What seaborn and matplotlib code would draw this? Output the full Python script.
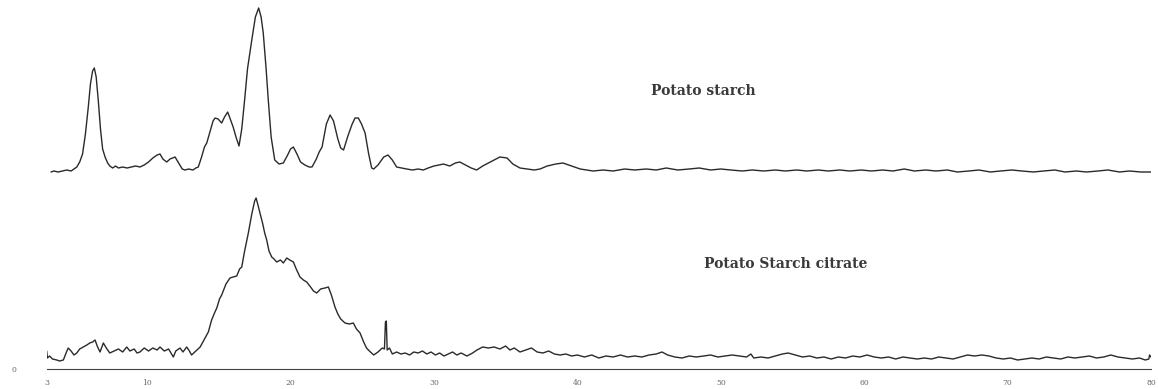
import numpy as np
import pandas as pd
import matplotlib
matplotlib.use("Agg")
import matplotlib.pyplot as plt
import seaborn as sns
from matplotlib.ticker import FixedLocator, MultipleLocator

# ---------------- data ----------------
two_theta_native = [
    3.3, 3.5, 3.8, 4.1, 4.4, 4.7, 4.9, 5.1, 5.3, 5.5, 5.7, 5.9, 6.05, 6.2, 6.32, 6.45,
    6.6, 6.75, 6.9, 7.07, 7.25, 7.4, 7.6, 7.8, 8.0, 8.3, 8.6, 8.9, 9.2, 9.5, 9.8, 10.1,
    10.4, 10.7, 10.9, 11.1, 11.37, 11.6, 11.95, 12.2, 12.45, 12.64, 12.9, 13.2, 13.4, 13.57,
    13.8, 14.0, 14.16, 14.4, 14.6, 14.74, 14.95, 15.2, 15.4, 15.62, 15.8, 16.0, 16.2, 16.41,
    16.6, 16.8, 17.0, 17.3, 17.55, 17.78, 17.95, 18.1, 18.3, 18.45, 18.65, 18.9, 19.2, 19.5,
    19.8, 20.0, 20.2, 20.45, 20.7, 21.0, 21.3, 21.5, 21.8, 22.0, 22.2, 22.5, 22.76, 23.0,
    23.3, 23.5, 23.7, 24.0, 24.3, 24.5, 24.73, 24.95, 25.2, 25.45, 25.66, 25.8, 26.1, 26.5,
    26.8, 27.1, 27.4, 27.75, 28.1, 28.5, 28.9, 29.26, 29.6, 30.0, 30.35, 30.66, 31.1, 31.5,
    31.8, 32.2, 32.6, 32.98, 33.4, 33.8, 34.2, 34.6, 35.1, 35.5, 36.0, 36.5, 37.0, 37.4,
    37.9, 38.5, 39.0, 39.6, 40.2, 41.1, 41.8, 42.5, 43.3, 44.0, 44.8, 45.5, 46.2, 47.0,
    47.8, 48.5, 49.3, 50.0, 50.7, 51.5, 52.2, 53.0, 53.8, 54.5, 55.3, 56.0, 56.8, 57.5,
    58.3, 59.0, 59.8, 60.5, 61.3, 62.0, 62.8, 63.5, 64.3, 65.0, 65.8, 66.5, 67.3, 68.0,
    68.8, 69.5, 70.3, 71.0, 71.8, 72.5, 73.3, 74.0, 74.8, 75.5, 76.3, 77.0, 77.8, 78.5,
    79.3, 80.0,
]
intensity_native = [
    197, 198, 197, 198, 199, 198, 200, 202, 207, 215, 235, 262, 285, 298, 301, 292,
    268, 240, 220, 212, 206, 203, 201, 203, 201, 202, 201, 202, 203, 202, 204, 207,
    211, 214, 215, 210, 207, 210, 212, 206, 200, 199, 200, 199, 201, 202,
    212, 222, 226, 238, 248, 251, 250, 246, 252, 257, 250, 242, 232, 223,
    240, 269, 300, 329, 352, 361, 352, 336, 300, 269, 232, 209, 205, 206,
    214, 220, 222, 215, 207, 204, 202, 202, 210, 217, 222, 245, 254, 248,
    230, 221, 219, 233, 245, 251, 251, 245, 236, 215, 201, 200, 204, 212,
    214, 209, 202, 201, 200, 199, 200, 199, 201, 203, 204, 205, 203, 206,
    207, 204, 201, 199, 203, 206, 209, 212, 211, 205, 201, 200, 199, 200,
    203, 205, 206, 203, 200, 198, 199, 198, 200, 199, 200, 199, 201, 199,
    200, 201, 199, 200, 199, 198, 199, 198, 199, 198, 199, 198, 199, 198,
    199, 198, 199, 198, 199, 198, 200, 198, 199, 198, 199, 197, 198, 199,
    197, 198, 199, 198, 197, 198, 199, 197, 198, 197, 198, 199, 197, 198,
    197, 197,
]

two_theta_citrate = [
    3.0, 3.05, 3.2, 3.4, 3.7, 3.9, 4.16, 4.35, 4.5, 4.7, 4.9, 5.1, 5.3, 5.55, 5.8, 6.0,
    6.2, 6.37, 6.55, 6.72, 6.95, 7.2, 7.4, 7.7, 8.0, 8.3, 8.58, 8.8, 9.1, 9.3, 9.5, 9.8,
    10.1, 10.4, 10.7, 10.9, 11.2, 11.5, 11.83, 12.0, 12.3, 12.5, 12.76, 12.95, 13.1, 13.4,
    13.7, 14.0, 14.27, 14.5, 14.7, 14.86, 15.05, 15.2, 15.5, 15.78, 16.0, 16.25, 16.45, 16.6,
    16.8, 17.06, 17.3, 17.5, 17.6, 17.75, 17.87, 18.05, 18.2, 18.34, 18.5, 18.69, 18.85, 19.04,
    19.3, 19.5, 19.74, 19.95, 20.2, 20.4, 20.66, 20.9, 21.13, 21.4, 21.6, 21.83, 22.1, 22.4,
    22.64, 22.85, 23.1, 23.3, 23.5, 23.8, 24.1, 24.38, 24.6, 24.85, 25.1, 25.3, 25.5, 25.8,
    26.1, 26.4, 26.55, 26.62, 26.68, 26.74, 26.9, 27.1, 27.4, 27.7, 28.0, 28.3, 28.6, 28.9,
    29.2, 29.5, 29.8, 30.1, 30.4, 30.7, 31.0, 31.3, 31.6, 31.9, 32.3, 32.7, 33.0, 33.4,
    33.8, 34.2, 34.6, 35.0, 35.3, 35.6, 36.0, 36.4, 36.8, 37.2, 37.6, 38.0, 38.4, 38.8,
    39.2, 39.6, 40.0, 40.5, 41.0, 41.5, 42.0, 42.5, 43.0, 43.5, 44.0, 44.5, 45.0, 45.5,
    45.9, 46.3, 46.8, 47.3, 47.8, 48.3, 48.8, 49.3, 49.8, 50.3, 50.8, 51.3, 51.8, 52.1,
    52.3, 52.8, 53.3, 53.8, 54.3, 54.7, 55.2, 55.7, 56.2, 56.7, 57.2, 57.7, 58.2, 58.7,
    59.2, 59.7, 60.2, 60.7, 61.2, 61.7, 62.2, 62.7, 63.2, 63.7, 64.2, 64.7, 65.2, 65.7,
    66.2, 66.7, 67.2, 67.7, 68.2, 68.7, 69.2, 69.7, 70.2, 70.7, 71.2, 71.7, 72.2, 72.7,
    73.2, 73.7, 74.2, 74.7, 75.2, 75.7, 76.2, 76.7, 77.2, 77.7, 78.2, 78.7, 79.2, 79.6,
    79.85, 79.9, 80.0,
]
intensity_citrate = [
    18, 11, 13, 10, 9, 8, 9, 16, 21, 18, 14, 16, 20, 22, 24, 26,
    27, 29, 22, 17, 26, 20, 16, 18, 20, 17, 22, 18, 20, 16, 17, 21,
    18, 21, 19, 22, 18, 20, 12, 18, 21, 17, 22, 18, 14, 18,
    22, 30, 37, 49, 56, 61, 70, 74, 85, 91, 92, 93, 100, 102,
    118, 136, 155, 168, 171, 163, 156, 146, 136, 129, 118, 112, 110, 107,
    109, 106, 111, 109, 107, 100, 92, 89, 87, 82, 78, 76, 80, 81,
    82, 74, 62, 55, 50, 46, 45, 46, 40, 36, 27, 21, 18, 14,
    17, 21, 20, 47, 48, 19, 21, 15, 17, 15, 16, 14, 17, 16,
    18, 15, 17, 14, 16, 13, 15, 17, 14, 16, 13, 16, 19, 22,
    21, 22, 20, 23, 19, 21, 17, 19, 21, 17, 16, 18, 15, 14,
    15, 13, 14, 12, 14, 11, 13, 12, 14, 12, 13, 12, 14, 15,
    17, 14, 12, 11, 13, 12, 13, 14, 12, 13, 14, 13, 12, 15,
    11, 12, 11, 13, 15, 16, 14, 12, 13, 11, 12, 10, 12, 11,
    13, 12, 14, 12, 11, 12, 10, 12, 11, 10, 11, 10, 12, 11,
    10, 12, 14, 13, 14, 13, 11, 10, 11, 9, 10, 11, 10, 12,
    11, 10, 12, 11, 12, 13, 11, 12, 14, 12, 11, 10, 11, 9,
    10, 14, 12,
]

series_labels = ["Potato starch", "Potato Starch citrate"]
x_tick_values = [3, 10, 20, 30, 40, 50, 60, 70, 80]
x_tick_labels = ["3", "10", "20", "30", "40", "50", "60", "70", "80"]

# ---------------- plot ----------------
sns.set_style("white")
W, H = 1158, 389
fig = plt.figure(figsize=(W / 100, H / 100), dpi=100)
left_px, right_px, axis_py = 46.7, 1151.0, 369.0
ax = fig.add_axes([left_px / W, (H - axis_py) / H, (right_px - left_px) / W, axis_py / H])

df_native = pd.DataFrame({"two_theta": two_theta_native, "intensity": intensity_native})
df_citrate = pd.DataFrame({"two_theta": two_theta_citrate, "intensity": intensity_citrate})

line_kw = dict(color="#2a2a2a", linewidth=1.0, estimator=None, ax=ax)
sns.lineplot(data=df_native, x="two_theta", y="intensity", **line_kw)
sns.lineplot(data=df_citrate, x="two_theta", y="intensity", **line_kw)

ax.set_xlim(3, 80)
ax.set_ylim(0, 369)
ax.set_xlabel("")
ax.set_ylabel("")

for s in ["top", "right", "left"]:
    ax.spines[s].set_visible(False)
ax.spines["bottom"].set_color("#444444")
ax.spines["bottom"].set_linewidth(0.8)

ax.xaxis.set_major_locator(FixedLocator(x_tick_values))
ax.set_xticklabels(x_tick_labels)
ax.xaxis.set_minor_locator(MultipleLocator(1))
ax.tick_params(axis="x", which="major", direction="inout", length=5, width=0.7,
               colors="#666666", labelsize=5.5, pad=5)
ax.tick_params(axis="x", which="minor", direction="out", length=2.2, width=0.7,
               colors="#555555")
for lbl in ax.get_xticklabels():
    lbl.set_family("DejaVu Serif")

ax.set_yticks([0])
ax.set_yticklabels(["0"])
ax.tick_params(axis="y", which="both", length=0, labelsize=5.5, colors="#666666", pad=22)
for lbl in ax.get_yticklabels():
    lbl.set_family("DejaVu Serif")

txt_kw = dict(family="DejaVu Serif", fontsize=10, fontweight="bold",
              color="#3a3a3a", ha="center", va="center")
ax.text(3 + (703 - left_px) / 14.34, 369 - 91, series_labels[0], **txt_kw)
ax.text(3 + (786 - left_px) / 14.34, 369 - 264, series_labels[1], **txt_kw)

fig.savefig("out.png", dpi=100)
